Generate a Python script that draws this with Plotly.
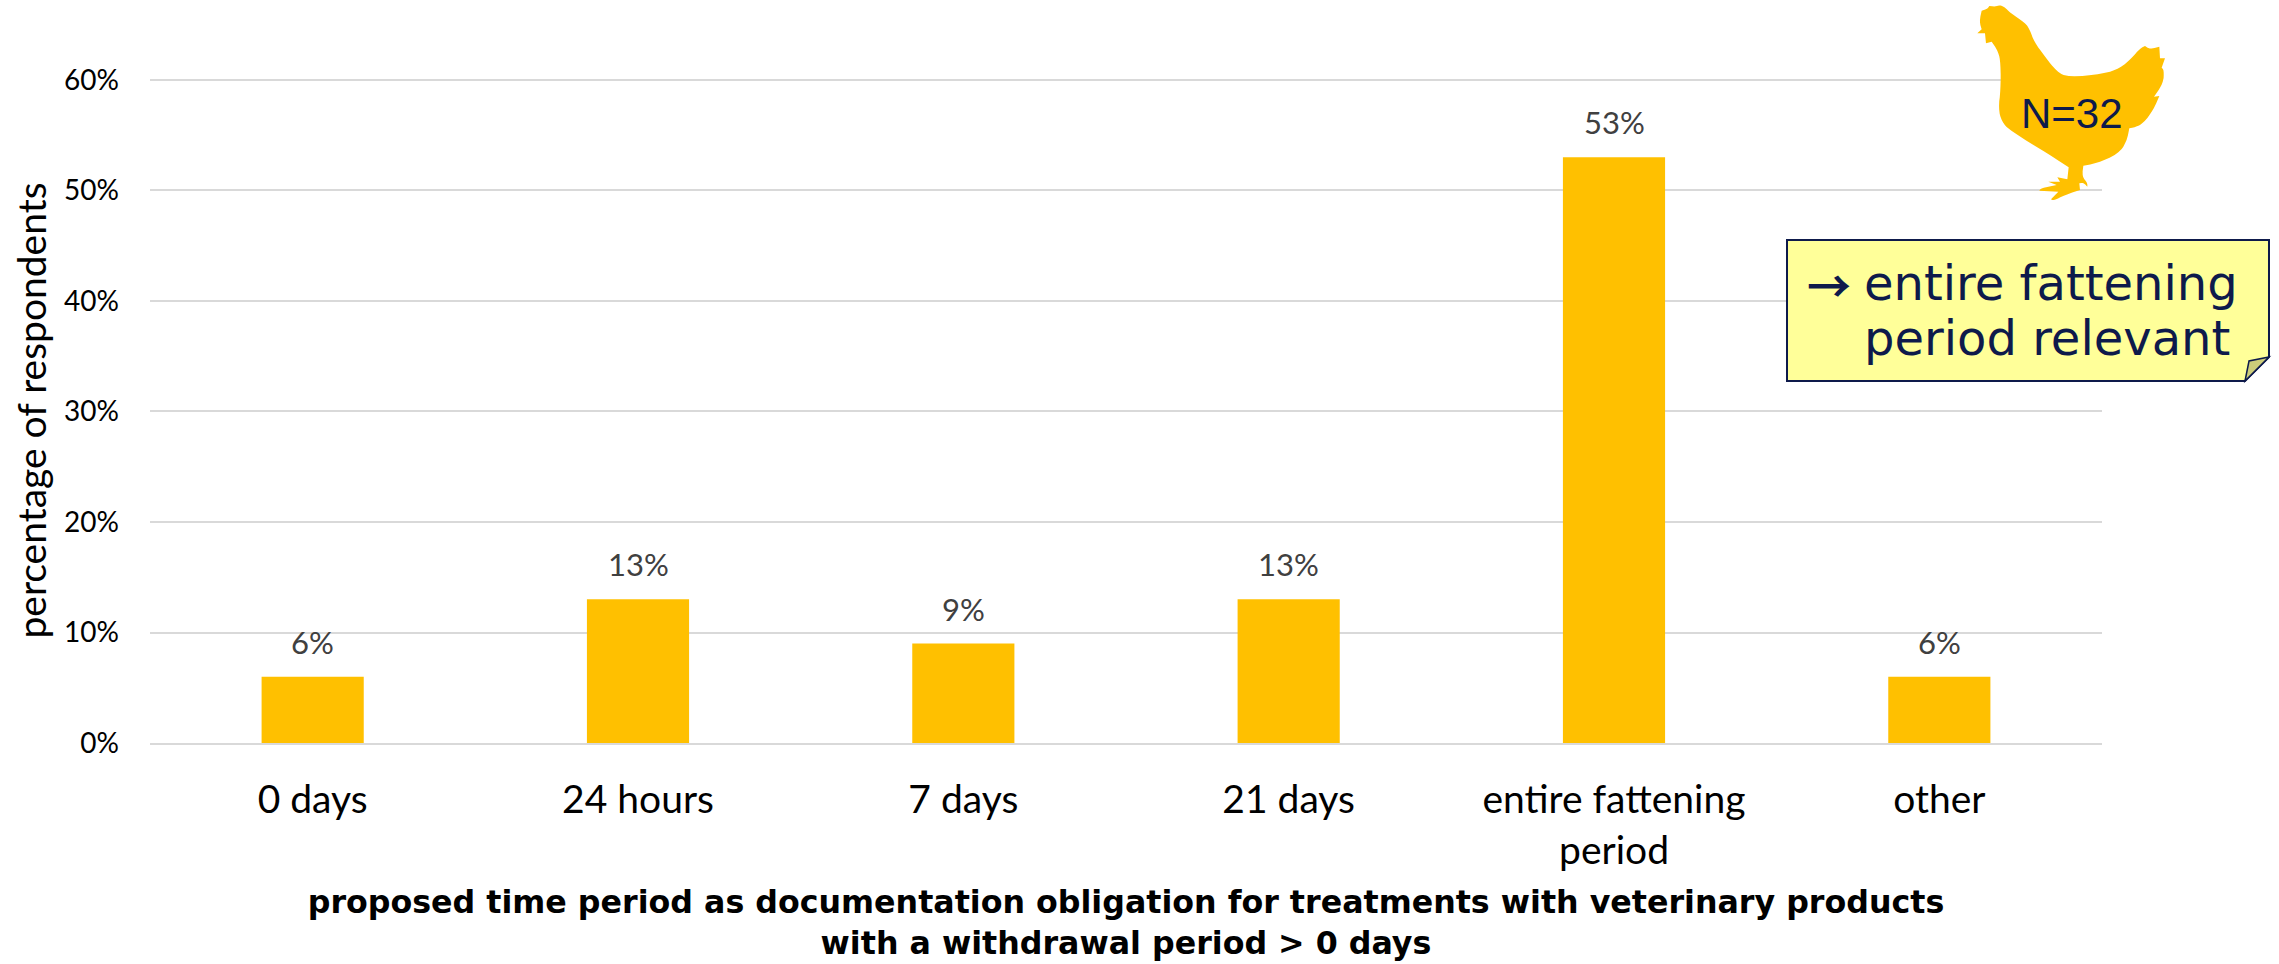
import math

import plotly.graph_objects as go

# Survey results
categories = ["0 days", "24 hours", "7 days", "21 days", "entire fattening<br>period", "other"]
shares = [6, 13, 9, 13, 53, 6]
y_ticks = [0, 10, 20, 30, 40, 50, 60]
y_tick_labels = ["0%", "10%", "20%", "30%", "40%", "50%", "60%"]

AMBER = "#FFC000"
NAVY = "#0E1A4B"
GRID = "#D9D9D9"

W, H = 2279, 964
LEFT, RIGHT, TOP, BOTTOM = 150, 2102, 78, 743
Y_MAX = 60.18  # just past the top tick so its gridline is still drawn


def px(x, y):
    """Page pixel position to paper coordinates."""
    return (x - LEFT) / (RIGHT - LEFT), (BOTTOM - y) / (BOTTOM - TOP)


def path(points):
    parts = []
    for i, (x, y) in enumerate(points):
        a, b = px(x, y)
        parts.append(f"{'M' if i == 0 else 'L'}{a:.5f},{b:.5f}")
    return " ".join(parts) + " Z"


def soften(points, limit=58, passes=2):
    """Round gentle vertices of a closed outline and keep the sharp ones."""
    for _ in range(passes):
        out = []
        n = len(points)
        for i, p in enumerate(points):
            a, c = points[i - 1], points[(i + 1) % n]
            h1 = math.atan2(p[1] - a[1], p[0] - a[0])
            h2 = math.atan2(c[1] - p[1], c[0] - p[0])
            turn = abs((h2 - h1 + math.pi) % (2 * math.pi) - math.pi)
            if math.degrees(turn) < limit:
                out.append((p[0] * 0.72 + a[0] * 0.28, p[1] * 0.72 + a[1] * 0.28))
                out.append((p[0] * 0.72 + c[0] * 0.28, p[1] * 0.72 + c[1] * 0.28))
            else:
                out.append(p)
        points = out
    return points


# Hen silhouette outline, in thirds of a pixel from its corner
hen_outline = [
    (82, 100), (95, 88), (88, 65), (95, 32), (112, 27), (118, 18), (135, 20), (150, 15), (165, 22),
    (180, 38), (225, 68), (240, 90), (252, 125), (285, 170), (320, 215), (355, 232), (460, 222),
    (510, 205), (545, 175), (570, 145), (585, 138), (600, 148), (628, 140), (630, 175), (645, 175),
    (635, 203), (642, 210), (640, 250), (612, 290), (628, 288), (610, 330), (580, 370), (555, 382),
    (538, 385), (530, 425), (505, 462), (440, 490), (400, 497), (396, 530), (412, 548), (412, 560),
    (400, 548), (388, 550), (390, 570), (345, 585), (310, 602), (303, 598), (325, 575), (268, 572),
    (272, 565), (320, 555), (295, 545), (330, 545), (322, 532), (352, 538), (356, 502), (300, 465),
    (180, 392), (155, 365), (145, 325), (152, 270), (152, 190), (145, 155), (125, 125), (108, 130),
    (105, 100),
]
hen_px = soften([(1950 + x / 3, y / 3) for x, y in hen_outline])

# Note box corners in page pixels
BX0, BX1, BY0, BY1 = 1787, 2269, 240, 381
FOLD = 24
box_px = [(BX0, BY0), (BX1, BY0), (BX1, BY1 - FOLD), (BX1 - FOLD, BY1), (BX0, BY1)]
fold_px = [(BX1, BY1 - FOLD), (BX1 - FOLD, BY1), (BX1 - FOLD + 4, BY1 - FOLD + 4)]

fig = go.Figure(
    go.Bar(
        x=categories,
        y=shares,
        marker=dict(color=AMBER, line=dict(width=0)),
        cliponaxis=False,
    )
)

# Value labels sit a fixed distance above each bar
for category, share in zip(categories, shares):
    fig.add_annotation(
        x=category, y=share, text=f"{share}%", showarrow=False,
        yanchor="bottom", yshift=14,
        font=dict(family="Lato", size=31, color="#404040"),
    )


def note(text, x, y, size, family, color=NAVY, anchor="left"):
    a, b = px(x, y)
    fig.add_annotation(
        text=text, x=a, y=b, xref="paper", yref="paper", showarrow=False,
        xanchor=anchor, yanchor="middle", align=anchor,
        font=dict(family=family, size=size, color=color),
    )


shape_common = dict(type="path", xref="paper", yref="paper", layer="above")
fig.add_shape(path=path(hen_px), fillcolor=AMBER, line=dict(width=0), **shape_common)
fig.add_shape(path=path(box_px), fillcolor="#FFFF99", line=dict(color=NAVY, width=2), **shape_common)
fig.add_shape(path=path(fold_px), fillcolor="#CDCD7A", line=dict(color=NAVY, width=1.5), **shape_common)

note("N=32", 2072, 113, 42, "Liberation Sans", anchor="center")
note("<b>→</b>", 1805, 284, 44, "Noto Sans CJK JP")
note("entire fattening", 1862, 283, 48, "DejaVu Sans")
note("period relevant", 1862, 338, 48, "DejaVu Sans")

fig.update_layout(
    width=W,
    height=H,
    margin=dict(l=LEFT, r=W - RIGHT, t=TOP, b=H - BOTTOM, autoexpand=False),
    paper_bgcolor="white",
    plot_bgcolor="white",
    bargap=0.686,
    showlegend=False,
    xaxis=dict(
        tickfont=dict(family="Lato", size=39, color="#000000"),
        showline=True, linecolor=GRID, linewidth=2, ticks="", ticklen=0,
        tickangle=0,
        ticklabelstandoff=21,
        title=dict(
            text="<b>proposed time period as documentation obligation for treatments with veterinary products<br>"
                 "with a withdrawal period &gt; 0 days</b>",
            font=dict(family="DejaVu Sans", size=31.7, color="#000000"),
            standoff=20,
        ),
    ),
    yaxis=dict(
        range=[0, Y_MAX], tickvals=y_ticks, ticktext=y_tick_labels,
        tickfont=dict(family="Lato", size=28, color="#000000"),
        ticklabelstandoff=30,
        gridcolor=GRID, gridwidth=2, zeroline=False, ticks="",
        title=dict(
            text="percentage of respondents",
            font=dict(family="Lato", size=39, color="#000000"),
            standoff=5,
        ),
    ),
)

fig.write_html("out.html", config=dict(displayModeBar=False))
